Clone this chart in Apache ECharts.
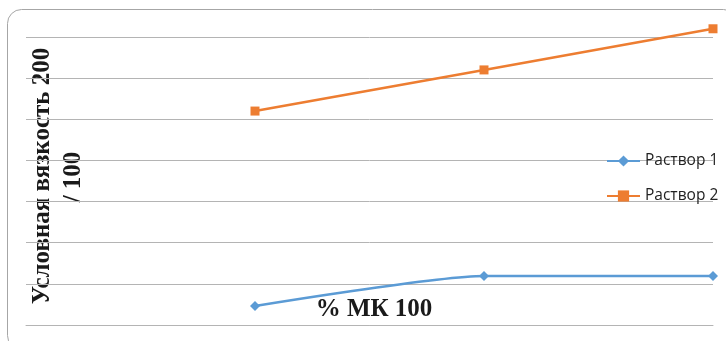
<!DOCTYPE html>
<html>
<head>
<meta charset="utf-8">
<script src="https://cdn.jsdelivr.net/npm/echarts@6/dist/echarts.min.js"></script>
<style>
  html, body { margin: 0; padding: 0; background: #ffffff; }
  #chart { width: 726px; height: 341px; }
</style>
</head>
<body>
<div id="chart"></div>
<script>
// Categories along the x axis (first slot is left empty, as in the source sheet)
const categories = ['0', '1', '2', '3'];
// Viscosity readings for the two solutions
const rastvor1 = [null, 0.46, 1.19, 1.19];
const rastvor2 = [null, 5.2, 6.2, 7.2];
// Value axis range
const yMin = 0;
const yMax = 7;
const yStep = 1;

// Axis titles (the y title is split over two lines)
const yTitleLines = ['Условная вязкость 200', '/ 100'];
const xTitle = '% МК 100';

const chart = echarts.init(document.getElementById('chart'), null, { renderer: 'canvas' });

const titleFont = {
  fontFamily: 'Liberation Serif',
  fontWeight: 'bold',
  fill: '#1a1a1a',
  align: 'center',
  verticalAlign: 'middle'
};

chart.setOption({
  animation: false,
  backgroundColor: '#ffffff',
  grid: { left: 26, right: 13, top: 37, bottom: 16, containLabel: false },
  xAxis: {
    type: 'category',
    data: categories,
    boundaryGap: false,
    axisLine: { show: true, lineStyle: { color: '#b4b4b4', width: 1 } },
    axisTick: { show: false },
    axisLabel: { show: false },
    splitLine: { show: false }
  },
  yAxis: {
    type: 'value',
    min: yMin,
    max: yMax,
    interval: yStep,
    axisLine: { show: false },
    axisTick: { show: false },
    axisLabel: { show: false },
    splitLine: { show: true, lineStyle: { color: '#b4b4b4', width: 1 } }
  },
  legend: {
    orient: 'vertical',
    left: 606,
    top: 153,
    padding: 0,
    itemWidth: 33,
    itemHeight: 14,
    itemGap: 19,
    textStyle: { fontFamily: 'Open Sans', fontSize: 15.5, lineHeight: 14, color: '#222222' },
    data: ['Раствор 1', 'Раствор 2']
  },
  graphic: [
    {
      type: 'rect',
      silent: true,
      z: -1,
      shape: { x: 7.5, y: 9.5, width: 730, height: 340, r: 14 },
      style: { fill: 'none', stroke: '#a6a6a6', lineWidth: 1 }
    },
    {
      type: 'text',
      silent: true,
      x: 43, y: 176,
      rotation: Math.PI / 2,
      style: Object.assign({ text: yTitleLines[0], fontSize: 25 }, titleFont)
    },
    {
      type: 'text',
      silent: true,
      x: 74, y: 177,
      rotation: Math.PI / 2,
      style: Object.assign({ text: yTitleLines[1], fontSize: 25 }, titleFont)
    },
    {
      type: 'text',
      silent: true,
      x: 374, y: 310,
      style: Object.assign({ text: xTitle, fontSize: 25 }, titleFont)
    }
  ],
  series: [
    {
      name: 'Раствор 1',
      type: 'line',
      data: rastvor1,
      smooth: 0.2,
      clip: false,
      symbol: 'diamond',
      symbolSize: 10,
      itemStyle: { color: '#5B9BD5' },
      lineStyle: { color: '#5B9BD5', width: 2.5 }
    },
    {
      name: 'Раствор 2',
      type: 'line',
      data: rastvor2,
      smooth: false,
      clip: false,
      symbol: 'rect',
      symbolSize: 9,
      itemStyle: { color: '#ED7D31' },
      lineStyle: { color: '#ED7D31', width: 2.5 }
    }
  ]
});
</script>
</body>
</html>
